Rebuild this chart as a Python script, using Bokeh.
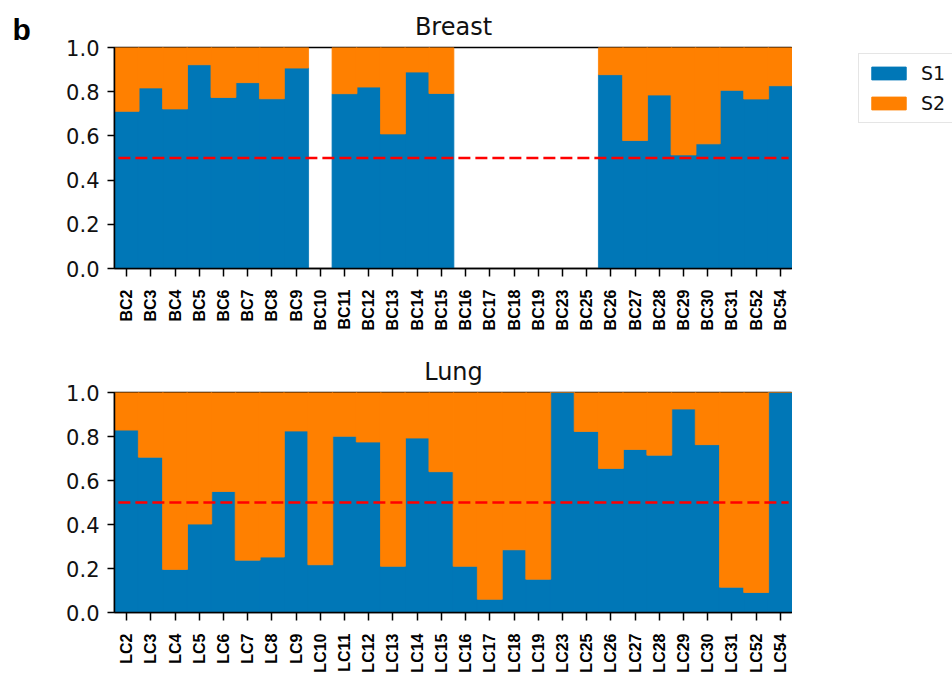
import math
from bokeh.plotting import figure
from bokeh.models import (Range1d, FixedTicker, PrintfTickFormatter, Legend, LegendItem,
                          ColumnDataSource)
from bokeh.layouts import column, row
from bokeh.embed import file_html
from bokeh.resources import INLINE

# ---------------- data ----------------
breast_samples = ["BC2", "BC3", "BC4", "BC5", "BC6", "BC7", "BC8", "BC9", "BC10", "BC11",
                  "BC12", "BC13", "BC14", "BC15", "BC16", "BC17", "BC18", "BC19", "BC23",
                  "BC25", "BC26", "BC27", "BC28", "BC29", "BC30", "BC31", "BC52", "BC54"]
breast_s1 = [0.711, 0.817, 0.722, 0.922, 0.774, 0.841, 0.768, 0.907, 0.0, 0.791,
             0.821, 0.609, 0.889, 0.792, 0.0, 0.0, 0.0, 0.0, 0.0,
             0.0, 0.877, 0.579, 0.785, 0.514, 0.564, 0.806, 0.767, 0.827]
breast_s2 = [0.289, 0.183, 0.278, 0.078, 0.226, 0.159, 0.232, 0.093, 0.0, 0.209,
             0.179, 0.391, 0.111, 0.208, 0.0, 0.0, 0.0, 0.0, 0.0,
             0.0, 0.123, 0.421, 0.215, 0.486, 0.436, 0.194, 0.233, 0.173]

lung_samples = ["LC2", "LC3", "LC4", "LC5", "LC6", "LC7", "LC8", "LC9", "LC10", "LC11",
                "LC12", "LC13", "LC14", "LC15", "LC16", "LC17", "LC18", "LC19", "LC23",
                "LC25", "LC26", "LC27", "LC28", "LC29", "LC30", "LC31", "LC52", "LC54"]
lung_s1 = [0.829, 0.706, 0.196, 0.402, 0.550, 0.238, 0.252, 0.825, 0.217, 0.801,
           0.775, 0.210, 0.793, 0.640, 0.210, 0.060, 0.285, 0.151, 1.0,
           0.823, 0.655, 0.741, 0.715, 0.925, 0.763, 0.115, 0.091, 1.0]
lung_s2 = [0.171, 0.294, 0.804, 0.598, 0.450, 0.762, 0.748, 0.175, 0.783, 0.199,
           0.225, 0.790, 0.207, 0.360, 0.790, 0.940, 0.715, 0.849, 0.0,
           0.177, 0.345, 0.259, 0.285, 0.075, 0.237, 0.885, 0.909, 0.0]

y_ticks = [0.0, 0.2, 0.4, 0.6, 0.8, 1.0]
threshold = 0.5
series_names = ["S1", "S2"]
panel_letter = "b"

BLUE = "#0077b7"
ORANGE = "#ff8000"

LETTER_W = 50
LEGEND_W = 160
TOP_H = 340
BOT_H = 335


def make_panel(title, samples, s1, s2, width, height, left, top, bottom):
    n = len(samples)
    xs = list(range(n))
    p = figure(width=width, height=height, output_backend="svg", toolbar_location=None,
               x_range=Range1d(-0.5, n - 0.5), y_range=Range1d(0, 1),
               min_border_left=left, min_border_right=0,
               min_border_top=top, min_border_bottom=bottom, title=title)
    p.background_fill_color = "white"
    p.border_fill_color = "white"
    src = ColumnDataSource(dict(x=xs, S1=s1, S2=s2))
    p.vbar_stack(series_names, x="x", width=1.03, color=[BLUE, ORANGE],
                 line_width=0.8, source=src)
    p.line(x=[xs[0] - 0.34, xs[-1] + 0.34], y=[threshold, threshold],
           line_color="#ff0000", line_width=2.5, line_dash="12 5")

    p.grid.visible = False
    p.outline_line_color = "black"
    p.outline_line_width = 1.5

    p.title.align = "center"
    p.title.text_font = "DejaVu Sans"
    p.title.text_font_style = "normal"
    p.title.text_font_size = "24px"
    p.title.text_color = "#111111"
    p.title.standoff = 14

    xa = p.xaxis[0]
    xa.ticker = FixedTicker(ticks=xs)
    xa.major_label_overrides = {i: s for i, s in enumerate(samples)}
    xa.major_label_orientation = math.pi / 2
    xa.major_label_text_font = "Liberation Sans"
    xa.major_label_text_font_style = "bold"
    xa.major_label_text_font_size = "16px"
    xa.major_label_text_color = "black"
    xa.major_label_standoff = 13
    xa.major_tick_out = 8
    xa.major_tick_in = 0

    ya = p.yaxis[0]
    ya.ticker = FixedTicker(ticks=y_ticks)
    ya.formatter = PrintfTickFormatter(format="%.1f")
    ya.major_label_text_font = "DejaVu Sans"
    ya.major_label_text_font_size = "21px"
    ya.major_label_text_color = "#111111"
    ya.major_label_standoff = 8
    ya.major_tick_out = 7
    ya.major_tick_in = 0

    for ax in (xa, ya):
        ax.axis_line_color = "black"
        ax.axis_line_width = 1.5
        ax.major_tick_line_color = "black"
        ax.major_tick_line_width = 1.5
        ax.minor_tick_line_color = None
    return p


def blank(width, height, title=None):
    kw = {} if title is None else {"title": title}
    f = figure(width=width, height=height, output_backend="svg", toolbar_location=None,
               x_axis_type=None, y_axis_type=None, min_border=0,
               x_range=Range1d(0, 1), y_range=Range1d(0, 1), **kw)
    f.outline_line_color = None
    f.grid.visible = False
    f.background_fill_color = "white"
    f.border_fill_color = "white"
    return f


# panel letter (as the title of a narrow blank figure)
p_letter = blank(LETTER_W, TOP_H, title=panel_letter)
p_letter.title.align = "left"
p_letter.title.offset = 12
p_letter.title.standoff = 4
p_letter.title.text_font = "Liberation Sans"
p_letter.title.text_font_style = "bold"
p_letter.title.text_font_size = "30px"
p_letter.title.text_color = "black"

p1 = make_panel("Breast", breast_samples, breast_s1, breast_s2,
                952 - LETTER_W - LEGEND_W, TOP_H, 114 - LETTER_W, 47, 72)
p2 = make_panel("Lung", lung_samples, lung_s1, lung_s2,
                952 - LEGEND_W, BOT_H, 114, 52, 61)

# legend panel (frame is aligned with the Breast frame: 221 px tall)
p_leg = blank(LEGEND_W, TOP_H)
nan = float("nan")
proxy = ColumnDataSource(dict(x=[nan], top=[nan]))
r_s1 = p_leg.vbar(x="x", top="top", width=1, color=BLUE, source=proxy)
r_s2 = p_leg.vbar(x="x", top="top", width=1, color=ORANGE, source=proxy)
legend = Legend(items=[LegendItem(label=series_names[0], renderers=[r_s1]),
                       LegendItem(label=series_names[1], renderers=[r_s2])],
                location=(66, 145))
legend.glyph_width = 43
legend.glyph_height = 16
legend.label_text_font = "DejaVu Sans"
legend.label_text_font_size = "19px"
legend.label_text_color = "#111111"
legend.label_standoff = 11
legend.padding = 8
legend.spacing = 8
legend.margin = 0
legend.border_line_color = "#cccccc"
legend.border_line_width = 1
legend.background_fill_color = "white"
legend.background_fill_alpha = 1.0
p_leg.add_layout(legend)

layout = column(row(p_letter, p1, p_leg, spacing=0), p2, spacing=0)
open("out.html", "w").write(file_html(layout, INLINE))
